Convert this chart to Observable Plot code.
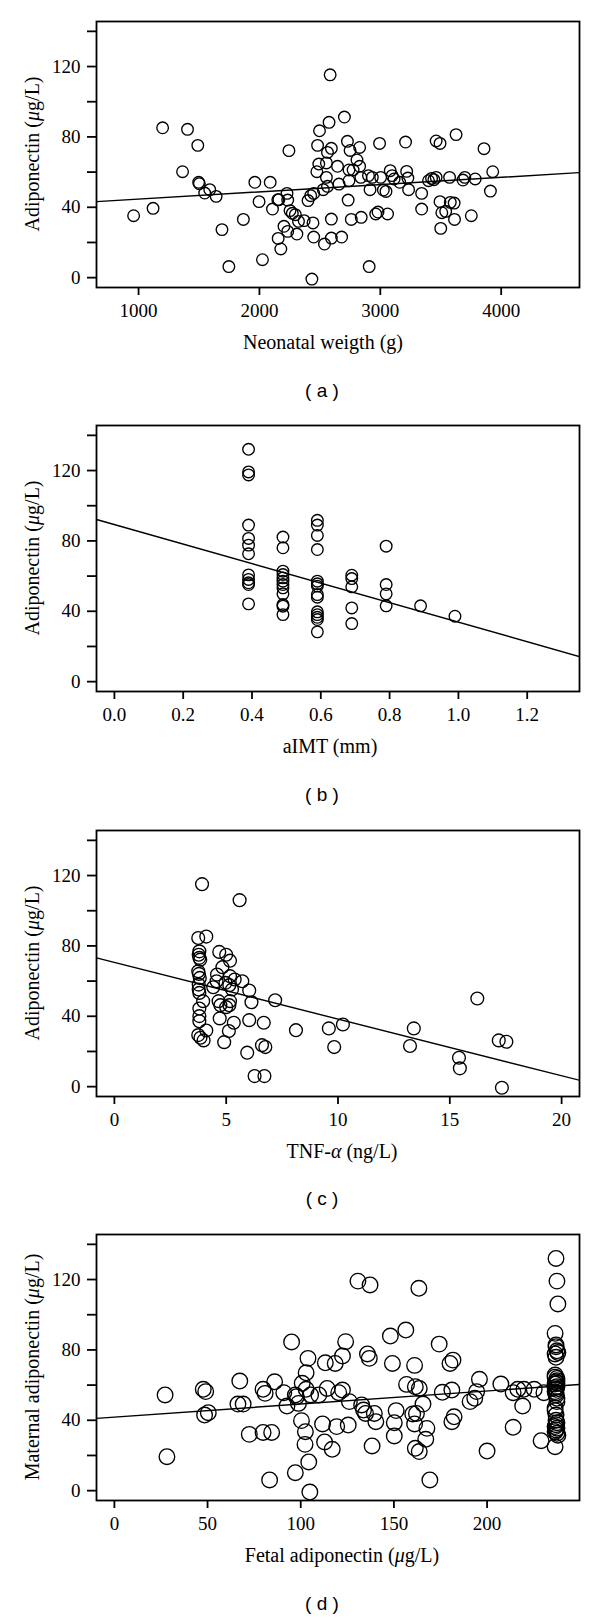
<!DOCTYPE html>
<html><head><meta charset="utf-8">
<script src="https://cdn.jsdelivr.net/npm/d3@7"></script>
<script src="https://cdn.jsdelivr.net/npm/@observablehq/plot@0.6"></script>
<style>
body{margin:0;background:#fff;}
#root{position:relative;width:600px;height:1619px;overflow:hidden;background:#fff;}
.panel{position:absolute;left:0;width:600px;}
.xt,.yt,.cap{position:absolute;white-space:nowrap;color:#000;line-height:1.15;}
.xt,.yt{font-family:"Liberation Serif","Times New Roman",serif;font-size:20px;}
.cap{font-family:"Liberation Sans",Arial,sans-serif;font-size:19px;}
</style></head><body><div id="root"></div>
<script>
// ---------- data ----------
// (a) Neonatal weight (g) vs adiponectin (µg/L)
const aWeight = [959,1120,1199,1405,1364,1490,1497,1503,1547,1589,1642,1690,1747,1867,1962,1997,2025,2089,2108,2152,2161,2155,2177,2203,2228,2234,2244,2234,2253,2272,2297,2310,2323,2370,2402,2424,2449,2434,2443,2449,2475,2481,2491,2497,2528,2538,2554,2554,2563,2576,2585,2563,2595,2595,2595,2646,2658,2680,2703,2728,2734,2741,2750,2741,2760,2775,2807,2829,2829,2839,2842,2902,2915,2908,2934,2962,2981,2994,3003,3025,3047,3060,3082,3098,3114,3161,3209,3218,3228,3234,3342,3342,3399,3424,3443,3462,3462,3494,3494,3500,3509,3541,3573,3579,3611,3614,3627,3684,3699,3785,3753,3858,3911,3930];
const aAdipo = [35.2,39.4,85.2,84.3,60.2,75.2,54.2,53.4,48.1,50,46.2,27.3,6.3,33.1,54.2,43.2,10.2,54.2,39,44.3,44.3,22.3,16.3,29.2,47.9,44.1,72.2,26.3,38.1,36.6,35.8,24.8,32,32.4,43.8,46.6,47.9,-0.8,31.1,23.1,60.2,75.2,64.6,83.5,50,19.1,65.2,57,71.2,88.3,115.3,51.9,33.3,22.5,73.5,63.3,53.2,23.1,91.3,77.5,44.1,55.1,72.3,61.2,33.1,61.2,66.9,74,63.3,57,34.3,58,50,6.3,57,36.2,37.3,76.3,57,49.8,49,36.2,60.8,58,56.1,54.2,77.1,60.4,56.6,50,47.9,39,55.1,56.4,55.7,57,77.7,76.3,43.2,28,36.9,37.7,57,42.8,42.4,33.1,81.3,55.5,57,56.1,35.2,73.3,49.2,60.2];

// (b) aIMT (mm) vs adiponectin
const bImt = [0.39,0.39,0.39,0.39,0.39,0.39,0.39,0.39,0.39,0.39,0.39,0.39,
  0.49,0.49,0.49,0.49,0.49,0.49,0.49,0.49,0.49,0.49,0.49,0.49,
  0.59,0.59,0.59,0.59,0.59,0.59,0.59,0.59,0.59,0.59,0.59,0.59,0.59,0.59,
  0.69,0.69,0.69,0.69,0.69,
  0.79,0.79,0.79,0.79,
  0.89,0.99];
const bAdipo = [132.1,119.2,117.5,89,81.4,77.6,72.7,60.7,58.1,56.2,55.2,44.2,
  82.2,76.1,62.8,60.9,59,57.1,55.2,53.3,49.9,43.8,42.9,38.1,
  91.7,89,83.1,75.1,57.1,55.6,54.3,49.5,48,39.7,38.1,36.6,35.3,28.3,
  60.5,58.6,53.9,41.9,33,
  77,55.2,49.9,43.1,
  43.1,37.2];

// (c) TNF-alpha (ng/L) vs adiponectin
const cTnf = [3.92,5.6,3.75,4.11,3.8,3.77,3.8,3.84,3.75,3.78,3.82,3.77,3.77,3.8,3.97,3.8,3.8,3.8,3.75,3.85,3.99,4.11,4.69,5,5.17,4.83,4.59,4.42,4.57,4.97,5.17,5.38,5.72,5.14,5.26,4.66,4.74,5,5.17,5.14,4.71,5.34,5.12,4.91,6.03,6.13,6.03,5.94,6.68,6.6,6.75,6.27,6.71,7.19,8.12,9.59,9.83,10.22,13.22,13.39,15.41,15.45,16.23,17.19,17.53,17.33];
const cAdipo = [115.1,106,84.5,85.3,76.9,75,73.2,72.2,65.6,64.1,61.8,58,55.2,53.3,48.6,44.4,40.1,37.2,29.3,27.8,26.3,31.9,76.6,75,71.6,67.9,63.7,56.5,59.9,59,62.8,60.9,59.9,57.7,55.2,48.6,46.3,45.2,48.6,46.3,38.8,36.3,31.6,25.3,54.6,48,37.8,19.3,36.3,23.6,22.5,6,6,49.1,32.1,33.1,22.5,35.3,23.1,33.1,16.4,10.4,50.1,26.3,25.5,-0.6];

// (d) Fetal adiponectin vs maternal adiponectin (µg/L)
const dFetal = [27.2,28.2,47.7,49,48.4,50.4,67.3,66.3,69.1,72.4,79.8,80.9,79.8,84.4,86,83.3,90.9,92.6,95.1,97.1,97.7,98.8,97.1,100.4,100.8,103.9,102.9,102.9,102.5,102.3,104.3,104.9,105.3,109.7,111.7,112.8,113.2,114.2,116.9,118.5,119.3,120.4,122.4,122.4,124.1,125.5,126.1,130.7,137.2,132.7,133.7,134.8,135.8,136.8,138.3,139.5,140.3,148.1,149.2,150.2,150.2,151.2,156.4,156.8,160.1,161.1,161.1,161.5,162.1,163.6,163.4,161.5,163.6,165.6,167.7,167.1,169.3,174.3,176,180.1,181.7,181.1,181.1,182.3,190.9,193.4,194.4,195.9,200,207.4,214,214,216.5,219.1,219.8,225.3,229,230.5,
  237,237.5,238,236.5,237,237.5,236.5,237,236.5,237.5,237,236.5,237.5,237,236.5,237,237.5,236.5,237,237.5,236.5,237,237.5,236.5,
  237.5,236.5,237,237.5,236.5,237,237.5,236.5,237,238,236.5,237.5,237,238];
const dMaternal = [54.4,19.3,57.6,56.3,43,44.3,62.3,49.2,49.2,32,57.6,55.3,33.1,33.1,61.9,6.1,55.7,48.1,84.5,54.4,53.4,49.6,10.2,39.8,61,75.2,67,57.6,33.5,26.3,16.3,-0.8,54.4,54.4,37.9,27.7,72.7,58.1,23.5,72.3,36.4,55.7,57.2,76.5,84.7,37.3,50.6,119.1,116.9,48.7,45.8,43.9,77.7,75.2,25.4,43.9,39.2,87.9,72.3,38.6,31.1,45.5,91.3,60.4,43.6,71.2,37.9,59.1,43.9,58.1,115,24.1,22.2,49.2,35.4,29.2,6.1,83.3,55.9,72.3,74.2,57.2,39.2,42,50.6,52.5,56.3,63.3,22.5,60.6,55.7,36,57.6,48.1,57.6,57.6,28.4,55.7,
  132,119.1,106.1,89.4,81.8,79.5,77.7,75.8,65.7,63.8,61.9,60.6,59.1,57.6,56.3,54.4,50.6,45.5,43,38.6,36.4,34.5,32.6,25,
  62.5,58.5,55.5,52.5,47,40,35.5,33.5,82.8,78.5,64.5,61,37.5,31.5];

// regression lines: [intercept, slope]
const fitA = [40.5, 0.00413];
const fitB = [89.3, -55.5];
const fitC = [70.6, -3.22];
const fitD = [41.8, 0.0743];

// axis limits (R style, expanded 4%) and ticks
const xLimA = [800, 4500], xLimB = [0, 1.3], xLimC = [0, 20], xLimD = [0, 240];
const yLim = [0, 140];
const xTicksA = [1000, 2000, 3000, 4000];
const xTicksB = [0, 0.2, 0.4, 0.6, 0.8, 1.0, 1.2];
const xTicksC = [0, 5, 10, 15, 20];
const xTicksD = [0, 50, 100, 150, 200];
const yTicks = [0, 20, 40, 60, 80, 100, 120, 140];
const yTickLabels = [0, 40, 80, 120];

// ---------- drawing ----------
const expand = ([a, b]) => { const d = (b - a) * 0.04; return [a - d, b + d]; };
const root = document.getElementById("root");
const FRAME_TOP0 = 21, STEP = 404.4, FRAME_H = 266, ML = 96, MR = 21, SVG_PAD = 10, SVG_H = 340;

function makePanel(i, xs, ys, xLim, xTicks, xFmt, r, fit, xTitle, yTitle, cap, xTitleX) {
  const T = FRAME_TOP0 + STEP * i;
  const xDomain = expand(xLim);
  const data = xs.map((x, j) => ({x, y: ys[j]}));
  const line = xDomain.map(x => ({x, y: fit[0] + fit[1] * x}));
  const plot = Plot.plot({
    width: 600, height: SVG_H,
    marginTop: SVG_PAD, marginBottom: SVG_H - SVG_PAD - FRAME_H, marginLeft: ML, marginRight: MR,
    style: {fontFamily: "'Liberation Serif', 'Times New Roman', serif", fontSize: "19px", color: "black", background: "transparent", overflow: "visible"},
    x: {domain: xDomain, label: null},
    y: {domain: expand(yLim), label: null},
    marks: [
      Plot.axisX({ticks: xTicks, tickFormat: xFmt, tickSize: 8, tickPadding: 8, strokeWidth: 1.8, label: null}),
      Plot.axisY({ticks: yTicks, tickFormat: d => yTickLabels.includes(d) ? String(d) : "", tickSize: 9, tickPadding: 7, strokeWidth: 1.8, label: null}),
      Plot.line(line, {x: "x", y: "y", stroke: "black", strokeWidth: 1.4, clip: true}),
      Plot.dot(data, {x: "x", y: "y", r, stroke: "black", fill: "none", strokeWidth: 1.35}),
      Plot.frame({stroke: "black", strokeWidth: 1.8})
    ]
  });
  const wrap = document.createElement("div");
  wrap.className = "panel";
  wrap.style.top = (T - SVG_PAD) + "px";
  wrap.appendChild(plot);
  root.appendChild(wrap);

  const xt = document.createElement("div");
  xt.className = "xt";
  xt.innerHTML = xTitle;
  xt.style.left = xTitleX + "px";
  xt.style.top = (T + FRAME_H + 55) + "px";
  xt.style.transform = "translate(-50%,-50%)";
  root.appendChild(xt);

  const yt = document.createElement("div");
  yt.className = "yt";
  yt.innerHTML = yTitle;
  yt.style.left = "32px";
  yt.style.top = (T + FRAME_H / 2) + "px";
  yt.style.transform = "translate(-50%,-50%) rotate(-90deg)";
  root.appendChild(yt);

  const c = document.createElement("div");
  c.className = "cap";
  c.textContent = cap;
  c.style.left = "322px";
  c.style.top = (T + FRAME_H + 103.5) + "px";
  c.style.transform = "translate(-50%,-50%)";
  root.appendChild(c);
}

const adipoTitle = "Adiponectin (<i>&mu;</i>g/L)";
makePanel(0, aWeight, aAdipo, xLimA, xTicksA, d3.format("d"), 5.8, fitA,
  "Neonatal weigth (g)", adipoTitle, "( a )", 323);
makePanel(1, bImt, bAdipo, xLimB, xTicksB, d3.format(".1f"), 5.8, fitB,
  "aIMT (mm)", adipoTitle, "( b )", 330);
makePanel(2, cTnf, cAdipo, xLimC, xTicksC, d3.format("d"), 6.4, fitC,
  "TNF-<i>&alpha;</i> (ng/L)", adipoTitle, "( c )", 342);
makePanel(3, dFetal, dMaternal, xLimD, xTicksD, d3.format("d"), 7.8, fitD,
  "Fetal adiponectin (<i>&mu;</i>g/L)", "Maternal adiponectin (<i>&mu;</i>g/L)", "( d )", 342);
</script>
</body></html>
